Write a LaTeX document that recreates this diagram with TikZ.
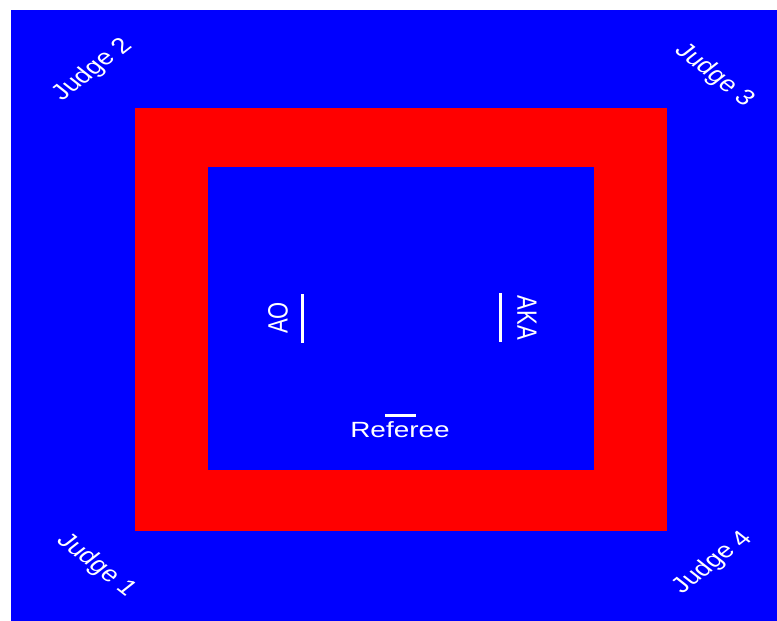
\documentclass[tikz,border=0pt]{standalone}
\usepackage{fontspec}
\setmainfont{Liberation Sans}
\definecolor{matblue}{RGB}{0,0,255}
\definecolor{matred}{RGB}{255,0,0}
\tikzset{
    lab/.style={
        font=\fontsize{11}{13}\selectfont, text=white, inner sep=0pt, xscale=1.27
    }
}

\begin{document}
\begin{tikzpicture}[x=0.5pt,y=-0.5pt, line cap=butt]

\tikzset{
  bar/.style={draw=white, line width=1.5pt},
}

\useasboundingbox (0,0) rectangle (777,621);

% mat: blue safety area, red border, blue contest area
\fill[matblue] (11,10) rectangle (777,621);
\fill[matred] (135,108) rectangle (667,531);
\fill[matblue] (208,167) rectangle (594,470);

% judges in the corners
\node[lab, rotate=45]  (judgeB) at (93,70)   {Judge 2};
\node[lab, rotate=-45] (judgeC) at (714,75)  {Judge 3};
\node[lab, rotate=-45] (judgeA) at (96,565)  {Judge 1};
\node[lab, rotate=45]  (judgeD) at (713,563) {Judge 4};

% competitors and referee
\node[lab, rotate=90]  (ao)  at (278,318) {AO};
\node[lab, rotate=-90] (aka) at (527,318) {AKA};
\node[lab]             (ref) at (400,430) {Referee};

% starting lines
\coordinate (aoT)  at (302,294);
\coordinate (aoB)  at (302,343);
\coordinate (akaT) at (500,293);
\coordinate (akaB) at (500,342);
\coordinate (refL) at (385,415);
\coordinate (refR) at (416,415);

\draw[bar] (aoT) -- (aoB);
\draw[bar] (akaT) -- (akaB);
\draw[bar] (refL) -- (refR);

\end{tikzpicture}
\end{document}
